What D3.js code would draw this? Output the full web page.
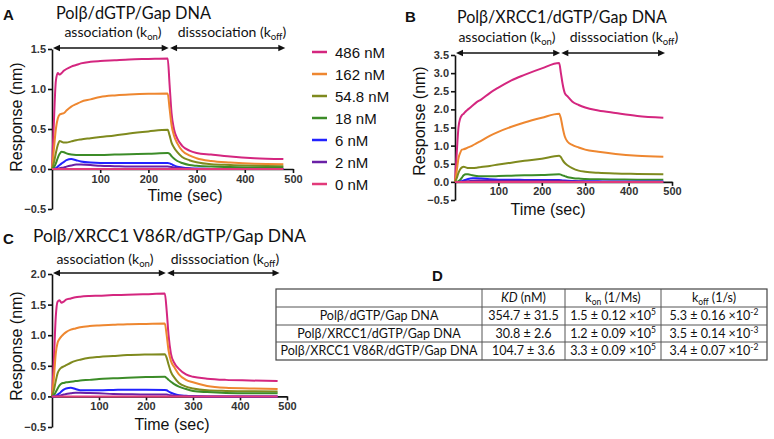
<!DOCTYPE html>
<html>
<head>
<meta charset="utf-8">
<script src="https://cdn.jsdelivr.net/npm/d3@7"></script>
<style>
  html, body { margin: 0; padding: 0; background: #fff; }
  svg { display: block; }
</style>
</head>
<body>
<svg id="fig" width="774" height="439"></svg>
<script>
// ---------------- DATA ----------------
const times = [0, 4, 8, 12, 16, 20, 25, 30, 40, 50, 60, 80, 100, 130, 160, 200, 240, 244, 248, 253, 260, 270, 285, 300, 330, 370, 420, 480];
const concentrations = ["486 nM", "162 nM", "54.8 nM", "18 nM", "6 nM", "2 nM", "0 nM"];

// Panel A: Polβ/dGTP/Gap DNA
const a486 = [0, 0.6, 1.1, 1.2, 1.18, 1.2, 1.23, 1.25, 1.28, 1.3, 1.32, 1.34, 1.35, 1.36, 1.37, 1.375, 1.38, 1.05, 0.7, 0.5, 0.38, 0.29, 0.23, 0.2, 0.18, 0.155, 0.135, 0.125];
const a162 = [0, 0.25, 0.5, 0.63, 0.68, 0.69, 0.7, 0.73, 0.78, 0.81, 0.84, 0.87, 0.9, 0.92, 0.93, 0.94, 0.945, 0.75, 0.55, 0.42, 0.32, 0.23, 0.17, 0.135, 0.1, 0.08, 0.065, 0.06];
const a54 = [0, 0.08, 0.2, 0.3, 0.35, 0.34, 0.33, 0.33, 0.345, 0.36, 0.37, 0.385, 0.4, 0.42, 0.445, 0.47, 0.49, 0.42, 0.33, 0.27, 0.21, 0.15, 0.11, 0.085, 0.06, 0.05, 0.04, 0.035];
const a18 = [0, 0.02, 0.07, 0.14, 0.19, 0.215, 0.21, 0.195, 0.18, 0.175, 0.175, 0.175, 0.175, 0.18, 0.185, 0.19, 0.2, 0.19, 0.16, 0.13, 0.1, 0.075, 0.05, 0.04, 0.03, 0.025, 0.02, 0.02];
const a6 = [0, 0, 0.01, 0.03, 0.05, 0.07, 0.09, 0.11, 0.125, 0.11, 0.095, 0.08, 0.075, 0.075, 0.075, 0.075, 0.075, 0.07, 0.06, 0.045, 0.03, 0.02, 0.01, 0.005, 0, 0, 0, 0];
const a2 = [0, 0, 0, 0.005, 0.01, 0.015, 0.02, 0.03, 0.045, 0.055, 0.055, 0.05, 0.04, 0.035, 0.03, 0.03, 0.03, 0.028, 0.025, 0.02, 0.015, 0.01, 0.005, 0, 0, 0, 0, 0];
const a0 = [0, 0, 0, 0, 0, 0, 0, 0, 0, 0, 0, 0, 0, 0, 0, 0, 0, 0, 0, 0, 0, 0, 0, 0, 0, 0, 0, 0];

// Panel B: Polβ/XRCC1/dGTP/Gap DNA
const b486 = [0, 0.8, 1.5, 1.75, 1.84, 1.88, 1.95, 2.0, 2.1, 2.2, 2.27, 2.45, 2.6, 2.8, 2.95, 3.13, 3.28, 3.0, 2.7, 2.45, 2.35, 2.22, 2.12, 2.05, 1.97, 1.9, 1.82, 1.77];
const b162 = [0, 0.3, 0.65, 0.8, 0.89, 0.9, 0.92, 0.95, 1.0, 1.07, 1.13, 1.27, 1.38, 1.52, 1.64, 1.77, 1.88, 1.75, 1.5, 1.25, 1.1, 1.02, 0.95, 0.89, 0.83, 0.77, 0.72, 0.69];
const b54 = [0, 0.1, 0.25, 0.35, 0.4, 0.42, 0.4, 0.38, 0.38, 0.39, 0.41, 0.44, 0.48, 0.53, 0.58, 0.64, 0.72, 0.68, 0.6, 0.52, 0.45, 0.38, 0.31, 0.28, 0.25, 0.23, 0.22, 0.21];
const b18 = [0, 0, 0.02, 0.06, 0.12, 0.18, 0.21, 0.21, 0.18, 0.16, 0.155, 0.155, 0.16, 0.17, 0.18, 0.19, 0.21, 0.2, 0.18, 0.16, 0.13, 0.11, 0.09, 0.08, 0.07, 0.065, 0.06, 0.06];
const b6 = [0, 0, 0, 0.01, 0.02, 0.04, 0.06, 0.08, 0.1, 0.1, 0.09, 0.07, 0.06, 0.06, 0.055, 0.05, 0.05, 0.045, 0.04, 0.035, 0.03, 0.025, 0.02, 0.02, 0.015, 0.01, 0.01, 0.01];
const b2 = [0, 0, 0, 0, 0.005, 0.01, 0.015, 0.02, 0.03, 0.04, 0.04, 0.035, 0.03, 0.03, 0.03, 0.03, 0.03, 0.03, 0.025, 0.02, 0.015, 0.01, 0.01, 0.005, 0, 0, 0, 0];
const b0 = [0, 0, 0, 0, 0, 0, 0, 0, 0, 0, 0, 0, 0, 0, 0, 0, 0, 0, 0, 0, 0, 0, 0, 0, 0, 0, 0, 0];

// Panel C: Polβ/XRCC1 V86R/dGTP/Gap DNA
const c486 = [0, 0.6, 1.3, 1.55, 1.57, 1.53, 1.55, 1.58, 1.6, 1.62, 1.63, 1.64, 1.645, 1.655, 1.66, 1.67, 1.68, 1.4, 1.0, 0.7, 0.55, 0.45, 0.36, 0.32, 0.29, 0.27, 0.26, 0.25];
const c162 = [0, 0.3, 0.7, 0.88, 0.94, 0.98, 1.02, 1.05, 1.09, 1.11, 1.13, 1.15, 1.16, 1.17, 1.18, 1.185, 1.19, 1.0, 0.75, 0.58, 0.48, 0.36, 0.27, 0.23, 0.17, 0.14, 0.13, 0.12];
const c54 = [0, 0.1, 0.25, 0.38, 0.44, 0.47, 0.49, 0.51, 0.55, 0.58, 0.6, 0.63, 0.645, 0.66, 0.675, 0.685, 0.69, 0.63, 0.52, 0.4, 0.31, 0.22, 0.16, 0.13, 0.1, 0.09, 0.085, 0.08];
const c18 = [0, 0.02, 0.07, 0.13, 0.18, 0.21, 0.22, 0.23, 0.24, 0.25, 0.26, 0.27, 0.285, 0.295, 0.305, 0.315, 0.32, 0.3, 0.27, 0.24, 0.2, 0.16, 0.12, 0.09, 0.07, 0.055, 0.05, 0.05];
const c6 = [0, 0, 0.01, 0.03, 0.05, 0.08, 0.11, 0.13, 0.14, 0.12, 0.1, 0.1, 0.1, 0.105, 0.11, 0.11, 0.105, 0.1, 0.08, 0.06, 0.04, 0.02, 0.01, 0.005, 0, 0, 0, 0];
const c2 = [0, 0, 0, 0.005, 0.01, 0.02, 0.03, 0.04, 0.05, 0.06, 0.06, 0.055, 0.05, 0.04, 0.035, 0.03, 0.03, 0.03, 0.025, 0.02, 0.015, 0.01, 0.005, 0, 0, 0, 0, 0];
const c0 = [0, 0, 0, 0, 0, 0, 0, 0, 0, 0, 0, 0, 0, 0, 0, 0, 0, 0, 0, 0, 0, 0, 0, 0, 0, 0, 0, 0];

const xTicks = [100, 200, 300, 400, 500];
const yTicksA = [-0.5, 0, 0.5, 1.0, 1.5];
const yTicksB = [-0.5, 0, 0.5, 1.0, 1.5, 2.0, 2.5, 3.0, 3.5];
const yTicksC = [-0.5, 0, 0.5, 1.0, 1.5, 2.0];

const panelTitles = ["Polβ/dGTP/Gap DNA", "Polβ/XRCC1/dGTP/Gap DNA", "Polβ/XRCC1 V86R/dGTP/Gap DNA"];

// Table D
const tableRows = ["Polβ/dGTP/Gap DNA", "Polβ/XRCC1/dGTP/Gap DNA", "Polβ/XRCC1 V86R/dGTP/Gap DNA"];
const kdValues = ["354.7 ± 31.5", "30.8 ± 2.6", "104.7 ± 3.6"];
const konValues = ["1.5 ± 0.12 ×10", "1.2 ± 0.09 ×10", "3.3 ± 0.09 ×10"];
const konExp = ["5", "5", "5"];
const koffValues = ["5.3 ± 0.16 ×10", "3.5 ± 0.14 ×10", "3.4 ± 0.07 ×10"];
const koffExp = ["-2", "-3", "-2"];

// ---------------- STYLE ----------------
const colors = ["#d4267f", "#ee8730", "#7f8a1e", "#3c8c28", "#2222ff", "#6a20a6", "#e23a7a"];
const AXIS_FONT = "'Liberation Sans', Arial, sans-serif";
const TITLE_FONT = "Lato, 'Open Sans', sans-serif";

const svg = d3.select("#fig");

function addSubText(g, x, y, parts, size, anchor, family) {
  const t = g.append("text").attr("x", x).attr("y", y)
    .attr("font-family", family).attr("font-size", size)
    .attr("text-anchor", anchor).attr("fill", "#111");
  parts.forEach(p => {
    const ts = t.append("tspan").text(p.t);
    if (p.sub) ts.attr("font-size", size * 0.68).attr("dy", size * 0.22);
    if (p.sup) ts.attr("font-size", size * 0.68).attr("dy", -size * 0.38);
    if (p.back) ts.attr("dy", p.back);
    if (p.italic) ts.attr("font-style", "italic");
  });
  return t;
}

function drawPanel(cfg) {
  const g = svg.append("g");
  const x = d3.scaleLinear().domain([0, 500]).range(cfg.xr);
  const y = d3.scaleLinear().domain(cfg.yd).range(cfg.yr);

  // y axis
  const ya = d3.axisLeft(y).tickValues(cfg.yTicks).tickSize(4).tickSizeOuter(0)
    .tickFormat(d3.format(".1f"));
  const yg = g.append("g").attr("transform", `translate(${cfg.xr[0]},0)`).call(ya);
  yg.selectAll("text").attr("font-family", AXIS_FONT).attr("font-weight", "bold")
    .attr("font-size", 11).attr("fill", "#333").attr("dx", 1);
  yg.selectAll("line, path").attr("stroke", "#111").attr("stroke-width", 1.6);

  // x axis at y=0
  const xa = d3.axisBottom(x).tickValues(xTicks).tickSize(4).tickSizeOuter(0);
  const xg = g.append("g").attr("transform", `translate(0,${y(0)})`).call(xa);
  xg.selectAll("text").attr("font-family", AXIS_FONT).attr("font-weight", "bold")
    .attr("font-size", 11).attr("fill", "#333").attr("dy", "0.6em");
  xg.selectAll("line, path").attr("stroke", "#111").attr("stroke-width", 1.6);

  // series
  const line = d3.line().x((d, i) => x(times[i])).y(d => y(d)).curve(d3.curveMonotoneX);
  cfg.series.forEach((s, i) => {
    g.append("path").datum(s).attr("d", line).attr("fill", "none")
      .attr("stroke", colors[i]).attr("stroke-width", 2).attr("stroke-linejoin", "round");
  });

  // axis titles
  g.append("text").attr("transform", `translate(${cfg.ylx},${cfg.yly}) rotate(-90)`)
    .attr("text-anchor", "middle").attr("font-family", AXIS_FONT).attr("font-size", 16)
    .attr("fill", "#111").text("Response (nm)");
  g.append("text").attr("x", cfg.xlx).attr("y", cfg.xly)
    .attr("text-anchor", "middle").attr("font-family", AXIS_FONT).attr("font-size", 16)
    .attr("fill", "#111").text("Time (sec)");

  // arrows
  const ay = cfg.arrowY;
  const segs = [[x(0) + 1, x(240) + 1], [x(245), x(484)]];
  segs.forEach(([a, b]) => {
    g.append("line").attr("x1", a + 4).attr("x2", b - 4).attr("y1", ay).attr("y2", ay)
      .attr("stroke", "#111").attr("stroke-width", 1.6);
    g.append("path").attr("d", `M${a},${ay}L${a + 7},${ay - 3.2}L${a + 7},${ay + 3.2}Z`).attr("fill", "#111");
    g.append("path").attr("d", `M${b},${ay}L${b - 7},${ay - 3.2}L${b - 7},${ay + 3.2}Z`).attr("fill", "#111");
  });
  const LS = 14;
  addSubText(g, cfg.assocX, cfg.labelY, [{t: "association (k"}, {t: "on", sub: true}, {t: ")", back: -LS * 0.22}], LS, "middle", TITLE_FONT);
  addSubText(g, cfg.dissX, cfg.labelY, [{t: "disssociation (k"}, {t: "off", sub: true}, {t: ")", back: -LS * 0.22}], LS, "middle", TITLE_FONT);

  // title and letter
  g.append("text").attr("x", cfg.titleX).attr("y", cfg.titleY).attr("font-family", TITLE_FONT)
    .attr("font-size", 16.5).attr("fill", "#111")
    .attr("textLength", cfg.titleW).attr("lengthAdjust", "spacingAndGlyphs").text(cfg.title);
  g.append("text").attr("x", cfg.letterX).attr("y", cfg.letterY).attr("font-family", AXIS_FONT)
    .attr("font-weight", "bold").attr("font-size", 15).attr("fill", "#111").text(cfg.letter);
}

drawPanel({
  letter: "A", letterX: 3, letterY: 20, title: panelTitles[0], titleX: 56, titleY: 19, titleW: 155,
  xr: [52, 293], yd: [-0.5, 1.5], yr: [209, 49], yTicks: yTicksA,
  series: [a486, a162, a54, a18, a6, a2, a0],
  ylx: 22, yly: 117, xlx: 185, xly: 201, arrowY: 48, labelY: 37, assocX: 113, dissX: 232
});
drawPanel({
  letter: "B", letterX: 405, letterY: 22, title: panelTitles[1], titleX: 457, titleY: 23, titleW: 210,
  xr: [455, 672], yd: [-0.5, 3.5], yr: [200, 55], yTicks: yTicksB,
  series: [b486, b162, b54, b18, b6, b2, b0],
  ylx: 425, yly: 121, xlx: 548, xly: 215, arrowY: 53, labelY: 42, assocX: 507, dissX: 624
});
drawPanel({
  letter: "C", letterX: 3, letterY: 244, title: panelTitles[2], titleX: 33, titleY: 242, titleW: 273,
  xr: [52, 287], yd: [-0.5, 2.0], yr: [427, 274], yTicks: yTicksC,
  series: [c486, c162, c54, c18, c6, c2, c0],
  ylx: 22, yly: 346, xlx: 172, xly: 430, arrowY: 273, labelY: 264, assocX: 105, dissX: 225
});

// legend
const lg = svg.append("g");
const legendY = d3.scalePoint().domain(concentrations).range([52, 184]);
concentrations.forEach((c, i) => {
  lg.append("line").attr("x1", 312).attr("x2", 327).attr("y1", legendY(c)).attr("y2", legendY(c))
    .attr("stroke", colors[i]).attr("stroke-width", 2.5);
  lg.append("text").attr("x", 335).attr("y", legendY(c) + 5.5).attr("font-family", AXIS_FONT)
    .attr("font-size", 15).attr("fill", "#111").text(c);
});

// table D
const tg = svg.append("g");
tg.append("text").attr("x", 432).attr("y", 281).attr("font-family", AXIS_FONT)
  .attr("font-weight", "bold").attr("font-size", 15).attr("fill", "#111").text("D");
const colX = [276, 482, 565, 661, 767];
const rowY = [289, 307, 325, 342, 360];
tg.append("rect").attr("x", colX[0]).attr("y", rowY[0]).attr("width", colX[4] - colX[0])
  .attr("height", rowY[4] - rowY[0]).attr("fill", "none").attr("stroke", "#444").attr("stroke-width", 1.2);
rowY.slice(1, 4).forEach(yv => tg.append("line").attr("x1", colX[0]).attr("x2", colX[4])
  .attr("y1", yv).attr("y2", yv).attr("stroke", "#555").attr("stroke-width", 1));
colX.slice(1, 4).forEach(xv => tg.append("line").attr("x1", xv).attr("x2", xv)
  .attr("y1", rowY[0]).attr("y2", rowY[4]).attr("stroke", "#555").attr("stroke-width", 1));
const cx = i => (colX[i] + colX[i + 1]) / 2;
const TS = 12.5;
addSubText(tg, cx(1), rowY[0] + 13, [{t: "KD", italic: true}, {t: " (nM)"}], TS, "middle", TITLE_FONT);
addSubText(tg, cx(2), rowY[0] + 13, [{t: "k"}, {t: "on", sub: true}, {t: " (1/Ms)", back: -TS * 0.22}], TS, "middle", TITLE_FONT);
addSubText(tg, cx(3), rowY[0] + 13, [{t: "k"}, {t: "off", sub: true}, {t: " (1/s)", back: -TS * 0.22}], TS, "middle", TITLE_FONT);
tableRows.forEach((r, i) => {
  const by = rowY[i + 1] + 13;
  addSubText(tg, cx(0), by, [{t: r}], TS, "middle", TITLE_FONT);
  addSubText(tg, cx(1), by, [{t: kdValues[i]}], TS, "middle", TITLE_FONT);
  addSubText(tg, cx(2), by, [{t: konValues[i]}, {t: konExp[i], sup: true}], TS, "middle", TITLE_FONT);
  addSubText(tg, cx(3), by, [{t: koffValues[i]}, {t: koffExp[i], sup: true}], TS, "middle", TITLE_FONT);
});
</script>
</body>
</html>
